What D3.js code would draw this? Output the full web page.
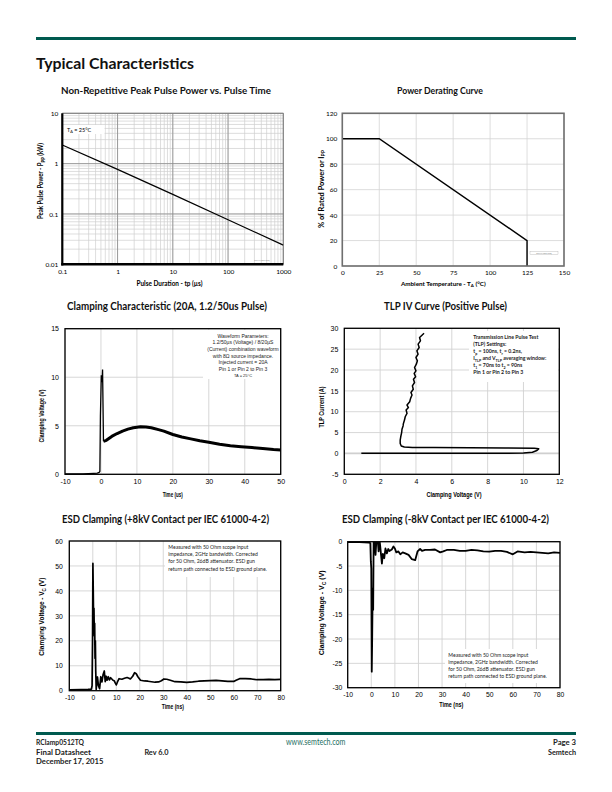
<!DOCTYPE html>
<html><head><meta charset="utf-8">
<script src="https://cdn.jsdelivr.net/npm/d3@7"></script>
<style>body{margin:0;background:#fff}svg{display:block}</style>
</head><body>
<script>
// ---------------- DATA ----------------
const pulseTimeUs = [0.1, 1, 10, 100, 1000];
const peakPowerKw = [2.35, 0.77, 0.245, 0.077, 0.024];
const powerXTicks = [0.1, 1, 10, 100, 1000];
const powerYTicks = [0.01, 0.1, 1, 10];

const ambientTempC = [0, 25, 125, 125];
const ratedPowerPct = [100, 100, 20, 0];
const deratingXTicks = [0, 25, 50, 75, 100, 125, 150];
const deratingYTicks = [0, 20, 40, 60, 80, 100, 120];

const clampSpike = [[-10,0.05],[-5,0.05],[-2,0.1],[-1,0.12],[-0.5,0.2],[-0.3,0.3],[-0.15,6.0],[0.1,10.2],[0.3,9.5],[0.45,10.8],[0.7,3.4]];
const clampTail = [[0.7,3.4],[1.5,3.5],[3,3.9],[4.5,4.2],[6,4.45],[7.5,4.65],[9,4.8],[11,4.9],[12.5,4.88],[14,4.8],[16,4.6],[17.5,4.45],[20,4.1],[22.5,3.85],[25,3.65],[27.5,3.45],[30,3.3],[33,3.1],[36,2.95],[39,2.85],[42,2.75],[45,2.65],[48,2.55],[50,2.5]];
const clampXTicks = [-10, 0, 10, 20, 30, 40, 50];
const clampYTicks = [0, 5, 10, 15];

const tlpCurve = [[0.95,0.02],[3.0,0.02],[6.0,0.05],[9.0,0.05],[10.0,0.1],[10.5,0.3],[10.75,0.7],[10.85,1.1],[10.6,1.25],[9.0,1.3],[7.0,1.35],[5.0,1.4],[3.8,1.45],[3.35,1.55],[3.18,1.8],[3.12,2.4],[3.12,3.2],[3.15,4.0],[3.2,5.0],[3.22,5.8],[3.28,6.6],[3.3,7.2],[3.36,8.0],[3.4,8.8],[3.5,9.6],[3.45,10.4],[3.58,11.0],[3.5,11.6],[3.65,12.4],[3.7,13.2],[3.78,14.0],[3.72,14.6],[3.85,15.4],[3.8,16.2],[3.92,17.0],[3.86,17.8],[3.98,18.4],[3.9,19.2],[4.0,19.8],[3.92,20.6],[4.02,21.4],[4.08,22.2],[4.0,23.0],[4.12,23.8],[4.05,24.6],[4.18,25.4],[4.12,26.2],[4.25,27.0],[4.2,27.8],[4.35,28.4],[4.45,28.8]];
const tlpXTicks = [0, 2, 4, 6, 8, 10, 12];
const tlpYTicks = [-5, 0, 5, 10, 15, 20, 25, 30];

const esdPos = [[-10,0.3],[-5,0.4],[-2,0.5],[-0.6,0.6],[-0.3,2],[-0.1,21],[0.05,51],[0.2,40],[0.35,28],[0.5,33],[0.65,22],[0.8,27],[0.95,13],[1.1,20],[1.25,8],[1.45,0.5],[1.7,3],[2.0,5.5],[2.4,2],[2.9,0.8],[3.4,5.6],[3.9,3.5],[4.4,6.5],[4.9,7.9],[5.3,3.6],[5.7,5.8],[6.1,4.2],[6.6,5.6],[7.1,4.3],[7.6,5.2],[8.1,4.7],[8.6,4.2],[9.1,4.0],[9.6,3.0],[10.0,2.3],[10.5,3.5],[11.2,4.8],[12.4,4.6],[13.5,5.0],[14.6,5.3],[15.4,5.0],[16.0,4.7],[17.0,5.8],[17.8,7.2],[18.5,6.8],[19.2,5.6],[20.3,4.2],[22,3.9],[23.5,3.8],[25,3.6],[26.5,3.4],[28,3.5],[29.2,4.0],[30.3,4.7],[31.5,4.6],[33,4.2],[35,3.6],[37.5,3.5],[40,3.3],[42.5,3.5],[45,3.8],[47.5,3.9],[50,4.0],[52.5,4.1],[55,3.9],[57.5,3.7],[60,3.7],[61,4.2],[62.5,4.8],[65,4.8],[67.5,4.7],[70,4.4],[72.5,4.4],[75,4.5],[77.5,4.4],[80,4.5]];
const esdPosXTicks = [-10, 0, 10, 20, 30, 40, 50, 60, 70, 80];
const esdPosYTicks = [0, 10, 20, 30, 40, 50, 60];

const esdNeg = [[-10,-0.1],[-5,-0.1],[-1,-0.2],[-0.4,-0.3],[-0.2,-4],[0,-5.5],[0.2,-26.7],[0.4,-19],[0.6,-9.6],[0.8,-14],[1.0,0.5],[1.3,0.5],[1.8,-2.7],[2.2,0.5],[2.7,0.5],[3.1,-2],[3.5,0.3],[3.8,-1],[4.2,-3],[4.5,-4.5],[4.9,-2.5],[5.5,-3.4],[6.0,-1.4],[6.6,-2.4],[7.2,-1.5],[7.7,-1.9],[8.7,-1.6],[9.4,-1.0],[10.0,-1.4],[10.6,-2.2],[11.5,-2.0],[12.3,-2.6],[13.3,-2.2],[14.4,-2.4],[15.8,-2.7],[17.2,-3.6],[18.6,-3.8],[19.6,-2.0],[20.7,-1.5],[21.5,-1.9],[22.8,-1.7],[24.9,-1.7],[27,-1.6],[29.2,-2.2],[30.5,-2.0],[32,-1.7],[35,-1.7],[37.5,-1.9],[40,-1.9],[42.5,-1.7],[45,-1.8],[47.5,-2.0],[50,-2.05],[52.5,-1.9],[55,-1.9],[57.5,-2.1],[60,-2.6],[62,-2.0],[65,-2.2],[67.5,-2.1],[70,-2.2],[72.5,-2.3],[75,-2.4],[77.5,-2.2],[80,-2.3]];
const esdNegXTicks = [-10, 0, 10, 20, 30, 40, 50, 60, 70, 80];
const esdNegYTicks = [-30, -25, -20, -15, -10, -5, 0];

const clampNote = ["Waveform Parameters:", "1.2/50µs (Voltage) / 8/20µS", "(Current) combination waveform", "with 8Ω source impedance.", "Injected current = 20A", "Pin 1 or Pin 2 to Pin 3"];
const esdNote = ["Measured with 50 Ohm scope input", "impedance, 2GHz bandwidth. Corrected", "for 50 Ohm, 26dB attenuator. ESD gun", "return path connected to ESD ground plane."];

// ---------------- HELPERS ----------------
const HUM = "Lato, 'Open Sans', sans-serif";
const ARIAL = "'Liberation Sans', Arial, sans-serif";
const svg = d3.select('body').append('svg').attr('width', 612).attr('height', 792);

function rich(parent, x, y, parts, o) {
  const t = parent.append('text').attr('x', x).attr('y', y)
    .attr('font-family', o.family).attr('font-size', o.size)
    .attr('font-weight', o.weight || 'normal').attr('fill', o.fill || '#000')
    .attr('text-anchor', o.anchor || 'start');
  if (o.len) t.attr('textLength', o.len).attr('lengthAdjust', 'spacingAndGlyphs');
  if (o.rotate) t.attr('transform', `rotate(-90 ${x} ${y})`);
  let cur = 0;
  (Array.isArray(parts) ? parts : [parts]).forEach(p => {
    let str = p, off = 0, small = false;
    if (typeof p !== 'string') { str = p.t; off = p.sub ? o.size * 0.28 : -o.size * 0.38; small = true; }
    const ts = t.append('tspan').text(str);
    if (off - cur !== 0) ts.attr('dy', off - cur);
    if (small) ts.attr('font-size', o.size * 0.7);
    cur = off;
  });
  return t;
}

function grid(g, xs, ys, xv, yv, color, w) {
  const [x0, x1] = xs.range(), [y0, y1] = ys.range();
  g.selectAll(null).data(xv).enter().append('line')
    .attr('x1', d => xs(d)).attr('x2', d => xs(d)).attr('y1', y0).attr('y2', y1)
    .attr('stroke', color).attr('stroke-width', w);
  g.selectAll(null).data(yv).enter().append('line')
    .attr('y1', d => ys(d)).attr('y2', d => ys(d)).attr('x1', x0).attr('x2', x1)
    .attr('stroke', color).attr('stroke-width', w);
}

function axes(g, xs, ys, xt, yt, family, size, padX, padY, fmtX, fmtY) {
  const [y0] = ys.range(), [x0] = xs.range();
  const ax = g.append('g').attr('transform', `translate(0,${y0})`)
    .call(d3.axisBottom(xs).tickValues(xt).tickSize(0).tickPadding(padX).tickFormat(fmtX || (d => d)));
  const ay = g.append('g').attr('transform', `translate(${x0},0)`)
    .call(d3.axisLeft(ys).tickValues(yt).tickSize(0).tickPadding(padY).tickFormat(fmtY || (d => d)));
  [ax, ay].forEach(a => {
    a.select('.domain').remove();
    a.attr('font-family', family).attr('font-size', size);
    a.selectAll('text').attr('fill', '#000');
  });
}

function frame(g, xs, ys, color, w) {
  const [x0, x1] = xs.range(), [y0, y1] = ys.range();
  g.append('rect').attr('x', x0).attr('y', y1).attr('width', x1 - x0).attr('height', y0 - y1)
    .attr('fill', 'none').attr('stroke', color).attr('stroke-width', w);
}

function clip(id, xs, ys) {
  const [x0, x1] = xs.range(), [y0, y1] = ys.range();
  svg.append('clipPath').attr('id', id).append('rect')
    .attr('x', x0).attr('y', y1).attr('width', x1 - x0).attr('height', y0 - y1);
}

// ---------------- HEADER ----------------
svg.append('rect').attr('x', 36).attr('y', 37).attr('width', 540).attr('height', 3).attr('fill', '#005A4F');
rich(svg, 36, 69, 'Typical Characteristics', {family: HUM, size: 15, weight: 'bold', fill: '#111', len: 158});

// chart titles
const titleOpt = (len, size) => ({family: HUM, size: size, weight: 'bold', fill: '#111', anchor: 'middle', len: len});
rich(svg, 166, 94, 'Non-Repetitive Peak Pulse Power vs. Pulse Time', titleOpt(210, 9.5));
rich(svg, 440, 94, 'Power Derating Curve', titleOpt(86, 9.5));
rich(svg, 167, 310, 'Clamping Characteristic (20A, 1.2/50us Pulse)', titleOpt(200, 10.5));
rich(svg, 445.5, 310, 'TLP IV Curve (Positive Pulse)', titleOpt(123, 10.5));
rich(svg, 165.5, 523, 'ESD Clamping (+8kV Contact per IEC 61000-4-2)', titleOpt(207, 10.5));
rich(svg, 445.5, 523, 'ESD Clamping (-8kV Contact per IEC 61000-4-2)', titleOpt(207, 10.5));

// ---------------- CHART 1 ----------------
{
  const g = svg.append('g');
  const xs = d3.scaleLog().domain([0.1, 1000]).range([62.3, 283.3]);
  const ys = d3.scaleLog().domain([0.01, 10]).range([264.3, 113.3]);
  grid(g, xs, ys, xs.ticks(), ys.ticks(), '#cfcfcf', 0.7);
  grid(g, xs, ys, powerXTicks, powerYTicks, '#8a8a8a', 0.8);
  g.append('rect').attr('x', 63.5).attr('y', 125).attr('width', 41).attr('height', 9).attr('fill', '#fff');
  rich(g, 67, 131.6, ['T', {t: 'A', sub: true}, ' = 25°C'], {family: HUM, size: 5.5});
  g.append('path').datum(d3.zip(pulseTimeUs, peakPowerKw))
    .attr('d', d3.line().x(d => xs(d[0])).y(d => ys(d[1])))
    .attr('fill', 'none').attr('stroke', '#000').attr('stroke-width', 1.2);
  rich(g, 262, 261, 'RCLAMP0512TQ', {family: HUM, size: 2, fill: '#888', anchor: 'middle'});
  g.append('line').attr('x1', 62.3).attr('x2', 283.3).attr('y1', 113.3).attr('y2', 113.3).attr('stroke', '#777').attr('stroke-width', 0.8);
  g.append('line').attr('x1', 283.3).attr('x2', 283.3).attr('y1', 113.3).attr('y2', 264.3).attr('stroke', '#777').attr('stroke-width', 0.8);
  g.append('line').attr('x1', 62.3).attr('x2', 62.3).attr('y1', 113.3).attr('y2', 265.5).attr('stroke', '#000').attr('stroke-width', 2.2);
  g.append('line').attr('x1', 61.2).attr('x2', 283.3).attr('y1', 264.3).attr('y2', 264.3).attr('stroke', '#000').attr('stroke-width', 2.4);
  axes(g, xs, ys, powerXTicks, powerYTicks, HUM, 6.5, 5, 4, d => d, d => d);
  rich(g, 169.5, 285.5, 'Pulse Duration - tp (µs)', {family: HUM, size: 6.8, weight: 'bold', anchor: 'middle', len: 66});
  rich(g, 43, 181, ['Peak Pulse Power - P', {t: 'PP', sub: true}, ' (kW)'], {family: HUM, size: 6.8, weight: 'bold', anchor: 'middle', len: 76, rotate: true});
}

// ---------------- CHART 2 ----------------
{
  const g = svg.append('g');
  const xs = d3.scaleLinear().domain([0, 150]).range([342.3, 564]);
  const ys = d3.scaleLinear().domain([0, 120]).range([266, 113.3]);
  grid(g, xs, ys, deratingXTicks, deratingYTicks, '#d4d4d4', 0.8);
  g.append('path').datum(d3.zip(ambientTempC, ratedPowerPct))
    .attr('d', d3.line().x(d => xs(d[0])).y(d => ys(d[1])))
    .attr('fill', 'none').attr('stroke', '#000').attr('stroke-width', 1.4);
  g.append('rect').attr('x', 530).attr('y', 251.5).attr('width', 28).attr('height', 3).attr('fill', '#fff').attr('stroke', '#999').attr('stroke-width', 0.3);
  rich(g, 544, 253.8, 'RCLAMP0512TQ', {family: HUM, size: 2, fill: '#777', anchor: 'middle'});
  frame(g, xs, ys, '#6f6f6f', 1.6);
  axes(g, xs, ys, deratingXTicks, deratingYTicks, HUM, 6.5, 4.5, 5);
  rich(g, 443.3, 285.5, ['Ambient Temperature - T', {t: 'A', sub: true}, ' (°C)'], {family: HUM, size: 6.3, weight: 'bold', anchor: 'middle'});
  rich(g, 323.5, 189, ['% of Rated Power or I', {t: 'PP', sub: true}], {family: HUM, size: 6.8, weight: 'bold', anchor: 'middle', len: 78, rotate: true});
}

// ---------------- CHART 3 ----------------
{
  const g = svg.append('g');
  const xs = d3.scaleLinear().domain([-10, 50]).range([65, 280.7]);
  const ys = d3.scaleLinear().domain([0, 15]).range([474.3, 328.7]);
  grid(g, xs, ys, clampXTicks, clampYTicks, '#d2d2d2', 0.9);
  g.append('rect').attr('x', 203).attr('y', 330).attr('width', 77).attr('height', 49).attr('fill', '#fff');
  clampNote.forEach((s, i) => rich(g, 243, 337.6 + i * 6.65, s, {family: ARIAL, size: 5, anchor: 'middle', fill: '#222'}));
  rich(g, 243, 376.8, 'TA = 25°C', {family: ARIAL, size: 4, anchor: 'middle', fill: '#222'});
  const line = d3.line().x(d => xs(d[0])).y(d => ys(d[1]));
  g.append('path').datum(clampSpike).attr('d', line).attr('fill', 'none').attr('stroke', '#000').attr('stroke-width', 1.3);
  g.append('path').datum(clampTail).attr('d', line).attr('fill', 'none').attr('stroke', '#000').attr('stroke-width', 3).attr('stroke-linejoin', 'round');
  frame(g, xs, ys, '#000', 1.3);
  axes(g, xs, ys, clampXTicks, clampYTicks, ARIAL, 7, 4.5, 6);
  rich(g, 172.7, 496.5, 'Time (us)', {family: ARIAL, size: 6.8, weight: 'bold', anchor: 'middle', len: 20});
  rich(g, 44, 416, 'Clamping Voltage (V)', {family: ARIAL, size: 6.8, weight: 'bold', anchor: 'middle', len: 53, rotate: true});
}

// ---------------- CHART 4 ----------------
{
  const g = svg.append('g');
  const xs = d3.scaleLinear().domain([0, 12]).range([344.3, 559.3]);
  const ys = d3.scaleLinear().domain([-5, 30]).range([474.3, 328.3]);
  grid(g, xs, ys, tlpXTicks, tlpYTicks, '#d2d2d2', 0.9);
  g.append('line').attr('x1', 344.3).attr('x2', 559.3).attr('y1', ys(0)).attr('y2', ys(0)).attr('stroke', '#cfcfcf').attr('stroke-width', 1.8);
  g.append('rect').attr('x', 469).attr('y', 331).attr('width', 89).attr('height', 51).attr('fill', '#fff');
  const o = {family: HUM, size: 5.2, weight: 'bold', fill: '#222'};
  const L = 473.3, T = 339.3, D = 7;
  rich(g, L, T, 'Transmission Line Pulse Test', o);
  rich(g, L, T + D, '(TLP) Settings:', o);
  rich(g, L, T + 2 * D, ['t', {t: 'p', sub: true}, ' = 100ns, t', {t: 'r', sub: true}, ' = 0.2ns,'], o);
  rich(g, L, T + 3 * D, ['I', {t: 'TLP', sub: true}, ' and V', {t: 'TLP', sub: true}, ' averaging window:'], o);
  rich(g, L, T + 4 * D, ['t', {t: '1', sub: true}, ' = 70ns to t', {t: '2', sub: true}, ' = 90ns'], o);
  rich(g, L, T + 5 * D, 'Pin 1 or Pin 2 to Pin 3', o);
  g.append('path').datum(tlpCurve)
    .attr('d', d3.line().x(d => xs(d[0])).y(d => ys(d[1])))
    .attr('fill', 'none').attr('stroke', '#000').attr('stroke-width', 1.5).attr('stroke-linejoin', 'round');
  frame(g, xs, ys, '#000', 1.3);
  axes(g, xs, ys, tlpXTicks, tlpYTicks, ARIAL, 7, 4.5, 6);
  rich(g, 454, 496.5, 'Clamping Voltage (V)', {family: ARIAL, size: 6.8, weight: 'bold', anchor: 'middle', len: 55});
  rich(g, 324, 407, 'TLP Current (A)', {family: ARIAL, size: 6.8, weight: 'bold', anchor: 'middle', len: 41, rotate: true});
}

// ---------------- CHART 5 ----------------
{
  const g = svg.append('g');
  const xs = d3.scaleLinear().domain([-10, 80]).range([69.3, 280.7]);
  const ys = d3.scaleLinear().domain([0, 60]).range([690.7, 541]);
  clip('c5', xs, ys);
  grid(g, xs, ys, esdPosXTicks, esdPosYTicks, '#d2d2d2', 0.9);
  g.append('rect').attr('x', 165).attr('y', 542).attr('width', 115).attr('height', 35).attr('fill', '#fff');
  esdNote.forEach((s, i) => rich(g, 168.3, 549.2 + i * 7.1, s, {family: HUM, size: 5.1, fill: '#222'}));
  g.append('path').datum(esdPos).attr('clip-path', 'url(#c5)')
    .attr('d', d3.line().x(d => xs(d[0])).y(d => ys(d[1])))
    .attr('fill', 'none').attr('stroke', '#000').attr('stroke-width', 1.7).attr('stroke-linejoin', 'round');
  frame(g, xs, ys, '#000', 1.3);
  axes(g, xs, ys, esdPosXTicks, esdPosYTicks, ARIAL, 6.8, 4.3, 6.6);
  rich(g, 172.8, 709, 'Time (ns)', {family: ARIAL, size: 6.8, weight: 'bold', anchor: 'middle', len: 22});
  rich(g, 44, 616.7, ['Clamping Voltage - V', {t: 'C', sub: true}, ' (V)'], {family: ARIAL, size: 6.8, weight: 'bold', anchor: 'middle', len: 78, rotate: true});
}

// ---------------- CHART 6 ----------------
{
  const g = svg.append('g');
  const xs = d3.scaleLinear().domain([-10, 80]).range([347.7, 560]);
  const ys = d3.scaleLinear().domain([-30, 0]).range([687.7, 541.7]);
  clip('c6', xs, ys);
  grid(g, xs, ys, esdNegXTicks, esdNegYTicks, '#d2d2d2', 0.9);
  g.append('rect').attr('x', 445).attr('y', 649).attr('width', 114).attr('height', 34).attr('fill', '#fff');
  esdNote.forEach((s, i) => rich(g, 448.3, 656.8 + i * 7.1, s, {family: HUM, size: 5.1, fill: '#222'}));
  g.append('path').datum(esdNeg).attr('clip-path', 'url(#c6)')
    .attr('d', d3.line().x(d => xs(d[0])).y(d => ys(d[1])))
    .attr('fill', 'none').attr('stroke', '#000').attr('stroke-width', 1.8).attr('stroke-linejoin', 'round');
  frame(g, xs, ys, '#000', 1.3);
  axes(g, xs, ys, esdNegXTicks, esdNegYTicks, ARIAL, 6.8, 4, 5.4);
  rich(g, 451.3, 706.5, 'Time (ns)', {family: ARIAL, size: 6.8, weight: 'bold', anchor: 'middle', len: 24});
  rich(g, 324, 612.8, ['Clamping Voltage - V', {t: 'C', sub: true}, ' (V)'], {family: ARIAL, size: 6.8, weight: 'bold', anchor: 'middle', len: 85, rotate: true});
}

// ---------------- FOOTER ----------------
svg.append('rect').attr('x', 36).attr('y', 732).attr('width', 540).attr('height', 3).attr('fill', '#005A4F');
const fo = {family: HUM, size: 8, weight: 'bold', fill: '#222'};
rich(svg, 36, 745, 'RClamp0512TQ', Object.assign({}, fo, {len: 48}));
rich(svg, 36, 754.5, 'Final Datasheet', Object.assign({}, fo, {len: 55}));
rich(svg, 36, 764, 'December 17, 2015', Object.assign({}, fo, {len: 67.5}));
rich(svg, 144.4, 754.5, 'Rev 6.0', Object.assign({}, fo, {len: 24}));
rich(svg, 315.7, 745, 'www.semtech.com', {family: HUM, size: 8.5, fill: '#1E6E63', anchor: 'middle', len: 59.4});
rich(svg, 576, 745, 'Page 3', Object.assign({}, fo, {anchor: 'end', len: 23}));
rich(svg, 576, 754.5, 'Semtech', Object.assign({}, fo, {anchor: 'end', len: 28}));
</script>
</body></html>
